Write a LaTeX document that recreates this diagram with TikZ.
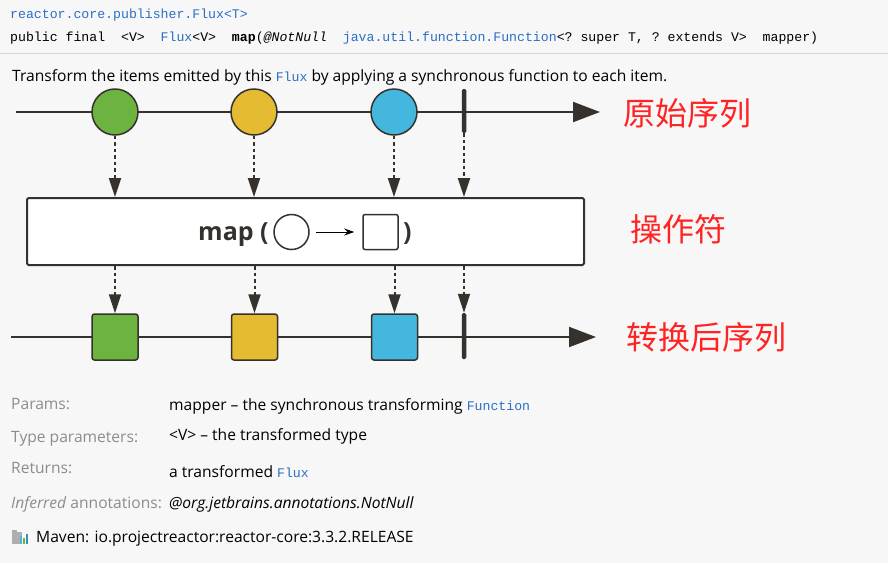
\documentclass[tikz,border=0pt]{standalone}
\usepackage{fontspec}
\setmainfont{Open Sans}
\setmonofont{Liberation Mono}
\newfontfamily\cjk{Noto Sans CJK SC}
\usetikzlibrary{arrows.meta,positioning}

\definecolor{bgc}{HTML}{F7F7F7}
\definecolor{linec}{HTML}{35322E}
\definecolor{mgreen}{HTML}{6DB33F}
\definecolor{myellow}{HTML}{E5BB32}
\definecolor{mblue}{HTML}{44B7DE}
\definecolor{cnred}{HTML}{FF2424}
\definecolor{codeblue}{HTML}{2B6FC4}
\definecolor{labgray}{HTML}{8C8C8C}
\definecolor{sepgray}{HTML}{D6D6D6}

\tikzset{
  marble/.style={circle, draw=linec, line width=1.5pt, minimum size=46pt, inner sep=0pt},
  itembox/.style={rectangle, rounded corners=2.5pt, draw=linec, line width=1.5pt, minimum size=46pt, inner sep=0pt},
  endbar/.style={rectangle, rounded corners=1.5pt, fill=linec, minimum width=4.5pt, minimum height=44pt, inner sep=0pt},
  opbox/.style={rectangle, rounded corners=1.5pt, draw=linec, line width=2pt, fill=white, minimum width=557pt, minimum height=67pt, inner sep=0pt},
  timeline/.style={draw=linec, line width=2pt, -{Triangle[width=20pt,length=27pt]}},
  dotarrow/.style={draw=linec, line width=2pt, dash pattern=on 3.5pt off 3pt, -{Triangle[width=12pt,length=19pt]}},
  cnlabel/.style={anchor=west, text=cnred, font=\cjk\fontsize{32}{32}\selectfont, inner sep=0pt},
  codeline/.style={anchor=base west, inner sep=0pt, font=\ttfamily\fontsize{13.2}{13.2}\selectfont},
  doclabel/.style={anchor=base west, inner sep=0pt, text=labgray, font=\fontsize{15.6}{15.6}\selectfont},
  docvalue/.style={anchor=base west, inner sep=0pt, font=\fontsize{15.6}{15.6}\selectfont},
}

\begin{document}
\begin{tikzpicture}[x=1pt,y=-1pt]
  % background
  \fill[bgc] (0,0) rectangle (888,563);
  \useasboundingbox (0,0) rectangle (888,563);

  % signature
  \node[codeline, text=codeblue] (sigpkg) at (10,18) {reactor.core.publisher.Flux<T>};
  \node[codeline] (sigdecl) at (10,41) {public final\ \ <V>\ \ \textcolor{codeblue}{Flux}<V>\ \ \textbf{map}(\textit{@NotNull}\ \ \textcolor{codeblue}{java.util.function.Function}<? super T, ? extends V>\ \ mapper)};
  \draw[sepgray, line width=1pt] (0,53) -- (888,53);
  \node[docvalue] (descr) at (12,81) {Transform the items emitted by this \texttt{\fontsize{13.2}{13.2}\selectfont\textcolor{codeblue}{Flux}} by applying a synchronous function to each item.};

  % source sequence
  \coordinate (src0) at (16,112);
  \coordinate (src1) at (600,112);
  \draw[timeline] (src0) -- (src1);
  \node[marble, fill=mgreen] (c1) at (115,112) {};
  \node[marble, fill=myellow] (c2) at (254,112) {};
  \node[marble, fill=mblue] (c3) at (394,112) {};
  \node[endbar] (bar1) at (464,111) {};
  \node[cnlabel] (srclabel) at (623,113) {原始序列};

  % operator
  \node[opbox] (op) at (305.5,231.5) {};
  \node[anchor=base west, inner sep=0pt, text=linec, font=\bfseries\fontsize{25}{25}\selectfont] (maptxt) at (198,240) {map (};
  \node[circle, draw=linec, line width=1.5pt, fill=white, minimum size=35pt, inner sep=0pt] (fin) at (291.5,232) {};
  \node[rectangle, rounded corners=2pt, draw=linec, line width=1.5pt, minimum size=35pt, inner sep=0pt] (fout) at (380.5,232) {};
  \draw[black, line width=1pt, -{Stealth[length=10pt,width=7pt]}, shorten <=6pt, shorten >=8pt] (fin) -- (fout);
  \node[anchor=base west, inner sep=0pt, text=linec, font=\bfseries\fontsize{25}{25}\selectfont] (mapend) at (403,240) {)};
  \node[cnlabel] (oplabel) at (630,229) {操作符};

  % transformed sequence
  \coordinate (dst0) at (11,337);
  \coordinate (dst1) at (596,337);
  \draw[timeline] (dst0) -- (dst1);
  \node[itembox, fill=mgreen] (s1) at (115,337) {};
  \node[itembox, fill=myellow] (s2) at (254.5,337) {};
  \node[itembox, fill=mblue] (s3) at (394.5,337) {};
  \node[endbar, minimum height=46pt] (bar2) at (464,336) {};
  \node[cnlabel] (dstlabel) at (626,337) {转换后序列};

  % dotted arrows
  \foreach \i in {1,2,3}{
    \draw[dotarrow] (c\i) -- (c\i |- op.north);
    \draw[dotarrow] (op.south -| s\i) -- (s\i);
  }
  \draw[dotarrow] (bar1) -- (bar1 |- op.north);
  \draw[dotarrow] (op.south -| bar2) -- (bar2);

  % doc rows
  \node[doclabel] (lparams) at (11,409) {Params:};
  \node[docvalue] (vparams) at (169,410) {mapper – the synchronous transforming \texttt{\fontsize{13.2}{13.2}\selectfont\textcolor{codeblue}{Function}}};
  \node[doclabel] (ltype) at (11,442) {Type parameters:};
  \node[docvalue] (vtype) at (169,440) {\textless V\textgreater{} – the transformed type};
  \node[doclabel] (lret) at (11,473) {Returns:};
  \node[docvalue] (vret) at (169,477) {a transformed \texttt{\fontsize{13.2}{13.2}\selectfont\textcolor{codeblue}{Flux}}};
  \node[doclabel] (lann) at (11,508) {\textit{Inferred} annotations:};
  \node[docvalue] (vann) at (169,508) {\textit{@org.jetbrains.annotations.NotNull}};

  % maven icon
  \fill[labgray!70] (12,530) rectangle (17,544);
  \fill[labgray!70] (17,532) rectangle (22,544);
  \fill[mblue] (20,536) rectangle (22,544);
  \fill[mgreen] (23,538) rectangle (25,544);
  \fill[mblue!80!black] (26,534) rectangle (28,544);
  \node[docvalue] (maven) at (36,542) {Maven: io.projectreactor:reactor-core:3.3.2.RELEASE};
\end{tikzpicture}
\end{document}
